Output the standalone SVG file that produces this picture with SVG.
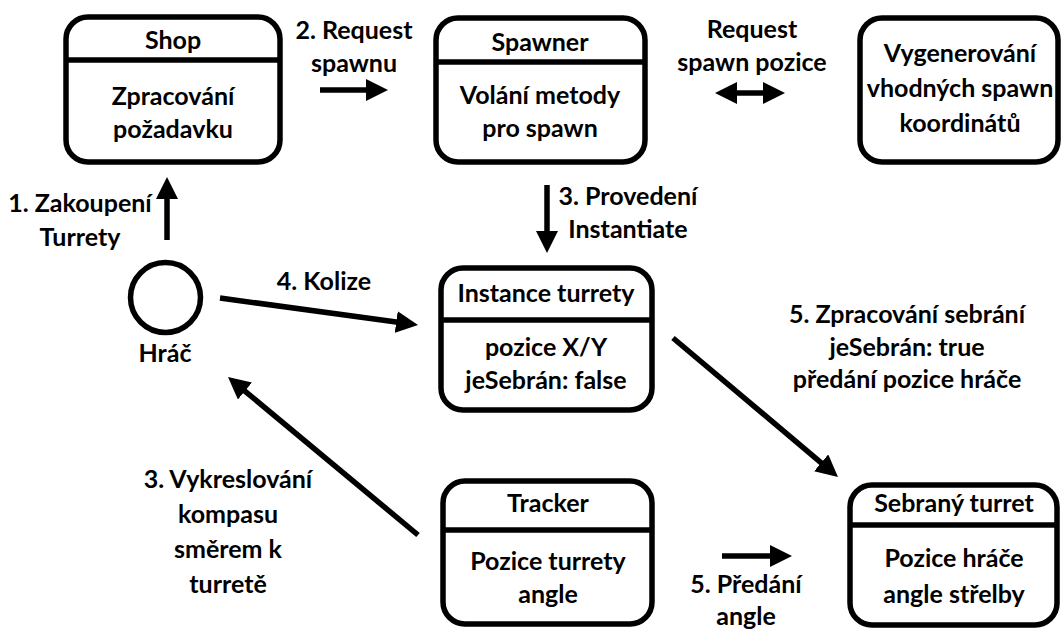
<svg xmlns="http://www.w3.org/2000/svg" width="1062" height="630" viewBox="0 0 1062 630">
<defs>
<style>
text{font-family:Lato,"Open Sans","Liberation Sans",sans-serif;font-weight:bold;font-size:25px;fill:#000;text-anchor:middle}
.box{fill:#fff;stroke:#000;stroke-width:5.5}
.div{stroke:#000;stroke-width:5.5}
.conn{stroke:#000;stroke-width:5.5;fill:none}
</style>
<marker id="ah" markerUnits="userSpaceOnUse" markerWidth="22" markerHeight="22" viewBox="0 0 22 22" refX="2" refY="11" orient="auto-start-reverse">
<path d="M0,0 L22,11 L0,22 z" fill="#000"/>
</marker>
</defs>
<rect width="1062" height="630" fill="#fff"/>

<g id="shop">
<rect class="box" x="66" y="17" width="214" height="145" rx="22"/>
<line class="div" x1="66" y1="60" x2="280" y2="60"/>
<text x="173" y="49">Shop</text>
<text x="173" y="105">Zpracování</text>
<text x="173" y="138">požadavku</text>
</g>

<g id="spawner">
<rect class="box" x="436" y="18" width="209" height="144" rx="22"/>
<line class="div" x1="436" y1="62" x2="645" y2="62"/>
<text x="540" y="51">Spawner</text>
<text x="540" y="104">Volání metody</text>
<text x="540" y="137">pro spawn</text>
</g>

<g id="generator">
<rect class="box" x="860" y="18" width="198" height="144" rx="22"/>
<text x="960" y="62">Vygenerování</text>
<text x="960" y="97">vhodných spawn</text>
<text x="960" y="132">koordinátů</text>
</g>

<g id="hrac">
<circle cx="165.5" cy="297.5" r="35" fill="#fff" stroke="#000" stroke-width="5.5"/>
<text x="165" y="362">Hráč</text>
</g>

<g id="instance">
<rect class="box" x="441" y="268" width="211" height="142" rx="22"/>
<line class="div" x1="441" y1="320" x2="652" y2="320"/>
<text x="546" y="302">Instance turrety</text>
<text x="546" y="356">pozice X/Y</text>
<text x="546" y="389">jeSebrán: false</text>
</g>

<g id="tracker">
<rect class="box" x="443" y="481" width="209" height="143" rx="22"/>
<line class="div" x1="443" y1="530" x2="652" y2="530"/>
<text x="548" y="512">Tracker</text>
<text x="548" y="570">Pozice turrety</text>
<text x="548" y="603">angle</text>
</g>

<g id="sebrany">
<rect class="box" x="850" y="485" width="207" height="140" rx="22"/>
<line class="div" x1="850" y1="525" x2="1057" y2="525"/>
<text x="954" y="512">Sebraný turret</text>
<text x="954" y="567">Pozice hráče</text>
<text x="954" y="603">angle střelby</text>
</g>

<g id="connectors">
<line class="conn" x1="167" y1="240" x2="167" y2="197" marker-end="url(#ah)"/>
<line class="conn" x1="320" y1="90" x2="368" y2="90" marker-end="url(#ah)"/>
<line class="conn" x1="735" y1="93" x2="765" y2="93" marker-start="url(#ah)" marker-end="url(#ah)"/>
<line class="conn" x1="547" y1="185" x2="547" y2="233" marker-end="url(#ah)"/>
<line class="conn" x1="220" y1="298" x2="398.2" y2="322.3" marker-end="url(#ah)"/>
<line class="conn" x1="673" y1="338" x2="822.7" y2="464.1" marker-end="url(#ah)"/>
<line class="conn" x1="418" y1="535" x2="243.4" y2="389.8" marker-end="url(#ah)"/>
<line class="conn" x1="722" y1="556" x2="772" y2="556" marker-end="url(#ah)"/>
</g>

<g id="labels">
<text x="80" y="212">1. Zakoupení</text>
<text x="80" y="246">Turrety</text>
<text x="354" y="39">2. Request</text>
<text x="354" y="72">spawnu</text>
<text x="752" y="38">Request</text>
<text x="752" y="71">spawn pozice</text>
<text x="628" y="205">3. Provedení</text>
<text x="628" y="238">Instantiate</text>
<text x="324" y="290">4. Kolize</text>
<text x="907" y="323">5. Zpracování sebrání</text>
<text x="907" y="356">jeSebrán: true</text>
<text x="907" y="388">předání pozice hráče</text>
<text x="228" y="488">3. Vykreslování</text>
<text x="228" y="523">kompasu</text>
<text x="228" y="558">směrem k</text>
<text x="228" y="593">turretě</text>
<text x="746" y="593">5. Předání</text>
<text x="746" y="625">angle</text>
</g>
</svg>
